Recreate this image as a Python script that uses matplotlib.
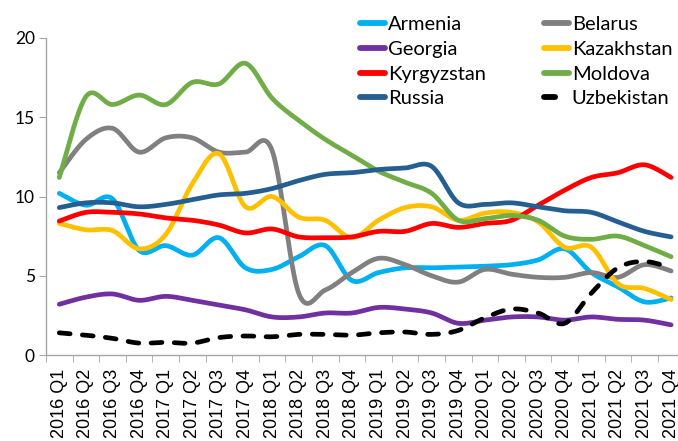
import numpy as np
import matplotlib
matplotlib.use("Agg")
import matplotlib.pyplot as plt
from matplotlib.lines import Line2D

quarters = [f"{y} Q{q}" for y in range(2016, 2022) for q in range(1, 5)]

armenia = [10.2, 9.45, 9.85, 6.6, 6.9, 6.3, 7.4, 5.5, 5.4, 6.2, 6.9, 4.7,
           5.2, 5.5, 5.5, 5.55, 5.6, 5.7, 6.0, 6.7, 5.2, 4.3, 3.35, 3.6]
belarus = [11.5, 13.6, 14.3, 12.8, 13.7, 13.7, 12.8, 12.8, 12.9, 3.9, 4.1, 5.2,
           6.1, 5.7, 5.0, 4.6, 5.4, 5.1, 4.9, 4.9, 5.2, 4.9, 5.7, 5.3]
georgia = [3.2, 3.65, 3.85, 3.45, 3.7, 3.45, 3.15, 2.85, 2.4, 2.4, 2.65, 2.65,
           3.0, 2.9, 2.65, 2.0, 2.2, 2.4, 2.4, 2.2, 2.4, 2.25, 2.2, 1.9]
kazakhstan = [8.3, 7.9, 7.85, 6.7, 7.6, 10.8, 12.7, 9.35, 10.0, 8.7, 8.5, 7.4,
              8.5, 9.3, 9.35, 8.5, 8.95, 9.0, 8.4, 6.8, 6.8, 4.5, 4.2, 3.5]
kyrgyzstan = [8.45, 9.0, 9.0, 8.9, 8.65, 8.5, 8.2, 7.7, 7.95, 7.45, 7.4, 7.45,
              7.8, 7.8, 8.3, 8.05, 8.3, 8.5, 9.45, 10.4, 11.2, 11.5, 12.0, 11.2]
moldova = [11.2, 16.3, 15.8, 16.4, 15.8, 17.2, 17.1, 18.4, 16.2, 14.8, 13.6, 12.6,
           11.6, 10.9, 10.2, 8.5, 8.6, 8.8, 8.5, 7.5, 7.3, 7.5, 6.9, 6.2]
russia = [9.3, 9.6, 9.6, 9.35, 9.5, 9.8, 10.1, 10.2, 10.5, 11.0, 11.4, 11.5,
          11.7, 11.8, 11.9, 9.6, 9.5, 9.6, 9.35, 9.1, 9.0, 8.4, 7.8, 7.45]
uzbekistan = [1.4, 1.25, 1.05, 0.75, 0.8, 0.75, 1.1, 1.2, 1.15, 1.3, 1.3, 1.25,
              1.4, 1.45, 1.3, 1.55, 2.35, 2.9, 2.65, 2.0, 3.9, 5.5, 5.9, 5.5]

names = ["Armenia", "Belarus", "Georgia", "Kazakhstan", "Kyrgyzstan",
         "Moldova", "Russia", "Uzbekistan"]
series = [armenia, belarus, georgia, kazakhstan, kyrgyzstan, moldova, russia, uzbekistan]
colors = ["#00B0F0", "#808080", "#7030A0", "#FFC000", "#FF0000",
          "#70AD47", "#255E91", "#000000"]


def smooth(xs, ys, n=24):
    """Excel-like smoothed line: cubic Bezier with Catmull-Rom control points."""
    xs = np.asarray(xs, float)
    ys = np.asarray(ys, float)
    P = np.column_stack([xs, ys])
    out = []
    m = len(P)
    for i in range(m - 1):
        p0 = P[i - 1] if i > 0 else P[i]
        p1 = P[i]
        p2 = P[i + 1]
        p3 = P[i + 2] if i + 2 < m else P[i + 1]
        c1 = p1 + (p2 - p0) / 6.0
        c2 = p2 - (p3 - p1) / 6.0
        t = np.linspace(0, 1, n, endpoint=(i == m - 2))[:, None]
        seg = ((1 - t) ** 3) * p1 + 3 * ((1 - t) ** 2) * t * c1 + 3 * (1 - t) * t ** 2 * c2 + t ** 3 * p2
        out.append(seg)
    out = np.vstack(out)
    return out[:, 0], out[:, 1]


W, H = 678, 441
fig = plt.figure(figsize=(W / 100, H / 100), dpi=100)
ax = fig.add_axes([46 / W, (H - 355) / H, 638.4 / W, 317 / H])

x = np.arange(len(quarters))
lw = 3.4
handles = {}
for name, ys, c in zip(names, series, colors):
    sx, sy = smooth(x, ys)
    if name == "Uzbekistan":
        ax.plot(sx, sy, color=c, lw=lw, linestyle=(0, (2.3, 2.6)),
                dash_capstyle="round", solid_capstyle="round")
    else:
        ax.plot(sx, sy, color=c, lw=lw, solid_capstyle="round")
    handles[name] = Line2D([], [], color=c, lw=lw + 0.8, solid_capstyle="round")

ax.set_xlim(-0.5, len(quarters) - 0.5)
ax.set_ylim(0, 20)
ax.set_yticks([0, 5, 10, 15, 20])
ax.set_yticklabels(["0", "5", "10", "15", "20"], family=["Lato", "DejaVu Sans"], fontsize=12.5)
ax.set_xticks(x)
ax.set_xticklabels(quarters, rotation=90, family=["Liberation Sans", "DejaVu Sans"],
                   fontsize=13, va="top")
ax.set_xticks(np.arange(-0.5, len(quarters)), minor=True)
ax.tick_params(axis="x", which="major", length=0, pad=10)
ax.tick_params(axis="x", which="minor", length=5, color="#A6A6A6")
ax.tick_params(axis="y", length=5, color="#A6A6A6", pad=3)
for s in ["top", "right"]:
    ax.spines[s].set_visible(False)
for s in ["left", "bottom"]:
    ax.spines[s].set_color("#A6A6A6")
    ax.spines[s].set_linewidth(1.0)

order = ["Armenia", "Georgia", "Kyrgyzstan", "Russia",
         "Belarus", "Kazakhstan", "Moldova", "Uzbekistan"]
leg_handles = []
for nm in order:
    if nm == "Uzbekistan":
        leg_handles.append(Line2D([], [], color="black", lw=lw + 0.8, linestyle=(0, (1.9, 10)),
                                  dash_capstyle="round"))
    else:
        leg_handles.append(handles[nm])
leg = fig.legend(leg_handles, order, ncol=2, loc="upper left",
                 bbox_to_anchor=(352 / W, 1 - 8 / H), frameon=False,
                 prop={"family": ["Lato", "DejaVu Sans"], "size": 14.5},
                 handlelength=1.25, handletextpad=0.12, columnspacing=2.9,
                 labelspacing=0.38, borderaxespad=0)

fig.savefig("out.png", dpi=100)
